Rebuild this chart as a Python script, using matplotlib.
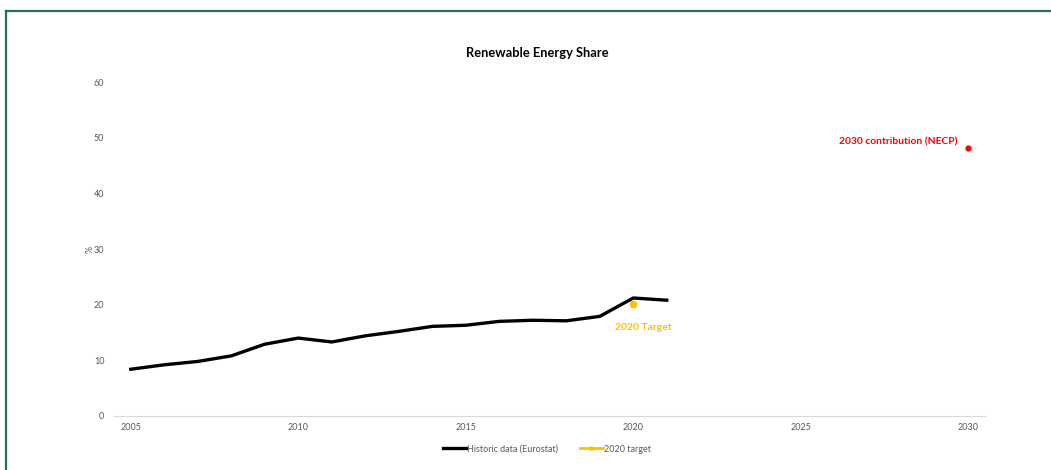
import matplotlib
matplotlib.use('Agg')
import matplotlib.pyplot as plt
from matplotlib.lines import Line2D

# Data
years = list(range(2005, 2022))
res_share = [8.4, 9.2, 9.8, 10.8, 12.9, 14.0, 13.3, 14.4, 15.2, 16.1, 16.3, 17.0, 17.2, 17.1, 17.9, 21.2, 20.8]
target_year = [2020]
target_value = [20.2]
necp_year = [2030]
necp_value = [48.2]

plt.rcParams['font.family'] = ['Lato', 'DejaVu Sans']

fig = plt.figure(figsize=(10.51, 4.70), dpi=100)
ax = fig.add_axes([0.1085, 0.1149, 0.8287, 0.7106])

# frame around the chart area
border = '#2e6b5a'
fig.add_artist(Line2D([0.0057, 1.0], [1 - 11 / 470, 1 - 11 / 470], color=border, lw=1.6, transform=fig.transFigure))
fig.add_artist(Line2D([0.0057, 0.0057], [0.0, 1 - 11 / 470], color=border, lw=1.6, transform=fig.transFigure))

ax.plot(years, res_share, color='black', lw=2.4, solid_joinstyle='round', label='Historic data (Eurostat)')
ax.plot(target_year, target_value, color='#FFC000', lw=2.0, marker='o', ms=4.5, linestyle='-', label='2020 target')
ax.plot(necp_year, necp_value, color='#FF0000', marker='o', ms=3.5, linestyle='none')

ax.annotate('2020 Target', (target_year[0], target_value[0]), xytext=(7, -17), textcoords='offset points',
            ha='center', va='center', color='#FFC000', fontsize=7.5, fontweight='bold')
ax.annotate('2030 contribution (NECP)', (necp_year[0], necp_value[0]), xytext=(-8, 4), textcoords='offset points',
            ha='right', va='center', color='#FF0000', fontsize=7.4, fontweight='bold')

ax.set_xlim(2004.5, 2030.5)
ax.set_ylim(0, 60)
ax.set_xticks(range(2005, 2031, 5))
ax.set_yticks(range(0, 61, 10))
ax.tick_params(axis='both', length=0, labelsize=6.5, labelcolor='#595959')
ax.tick_params(axis='y', pad=7)
ax.tick_params(axis='x', pad=5)
for s in ['top', 'right', 'left']:
    ax.spines[s].set_visible(False)
ax.spines['bottom'].set_color('#d9d9d9')
ax.spines['bottom'].set_linewidth(0.8)

ax.set_ylabel('%', fontsize=6.5, color='#595959')
ax.yaxis.set_label_coords(-0.022, 0.5)
fig.text(0.511, 1 - 53 / 470, 'Renewable Energy Share', ha='center', va='center', fontsize=9.3, fontweight='bold')

ax.legend(loc='center', bbox_to_anchor=(0.497, -0.099), ncol=2, frameon=False, fontsize=6.5,
          labelcolor='#595959', handlelength=2.5, handletextpad=0.1, columnspacing=2.5, markerscale=0.5)

fig.savefig('out.png', dpi=100, facecolor='white')
